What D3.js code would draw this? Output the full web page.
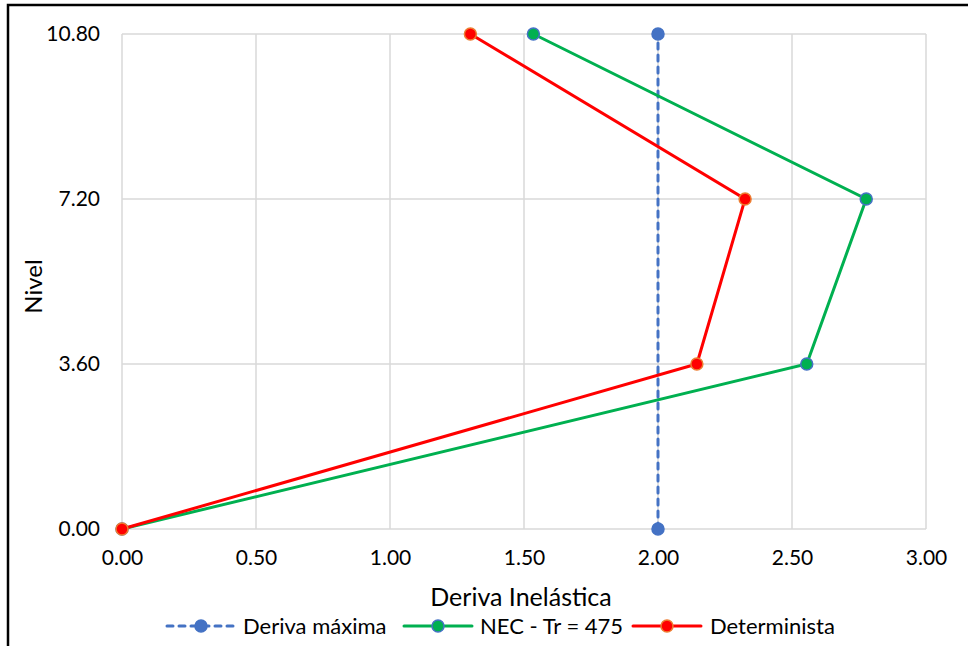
<!DOCTYPE html>
<html>
<head>
<meta charset="utf-8">
<script src="https://cdn.jsdelivr.net/npm/d3@7/dist/d3.min.js"></script>
<style>
  html, body { margin: 0; padding: 0; background: #fff; }
  svg text { font-family: Lato, "Open Sans", "Liberation Sans", sans-serif; fill: #000; }
</style>
</head>
<body>
<svg id="chart" width="968" height="646"></svg>
<script>
// Storey levels (m) and inelastic drift per series
const levels = [0.00, 3.60, 7.20, 10.80];
const derivaMaxLevels = [0.00, 10.80];
const derivaMaxValues = [2.00, 2.00];
const necValues = [0.00, 2.555, 2.777, 1.535];
const deterministaValues = [0.00, 2.145, 2.325, 1.30];

const xTicks = [0.00, 0.50, 1.00, 1.50, 2.00, 2.50, 3.00];
const yTicks = [0.00, 3.60, 7.20, 10.80];

const seriesNames = ["Deriva máxima", "NEC - Tr = 475", "Determinista"];

const svg = d3.select("#chart");
const FONT = "Lato, 'Open Sans', sans-serif";

// Outer frame of the chart
svg.append("rect")
  .attr("x", 8).attr("y", 5)
  .attr("width", 1000).attr("height", 700)
  .attr("fill", "none").attr("stroke", "#000").attr("stroke-width", 2.5);

const plot = { left: 122, right: 926, top: 34, bottom: 529 };

const x = d3.scaleLinear().domain([0, 3]).range([plot.left, plot.right]);
const y = d3.scaleLinear().domain([0, 10.8]).range([plot.bottom, plot.top]);

// Gridlines
const grid = svg.append("g");
grid.selectAll("line.v").data(xTicks).join("line")
  .attr("x1", d => x(d)).attr("x2", d => x(d))
  .attr("y1", plot.top).attr("y2", plot.bottom)
  .attr("stroke", "#d9d9d9").attr("stroke-width", 1.5);
grid.selectAll("line.h").data(yTicks).join("line")
  .attr("x1", plot.left).attr("x2", plot.right)
  .attr("y1", d => y(d)).attr("y2", d => y(d))
  .attr("stroke", "#d9d9d9").attr("stroke-width", 1.5);

// Axes (labels only, no domain line or tick marks)
const xAxis = svg.append("g")
  .attr("transform", `translate(0,${plot.bottom})`)
  .call(d3.axisBottom(x).tickValues(xTicks).tickFormat(d3.format(".2f")).tickSize(0).tickPadding(21));
xAxis.select(".domain").remove();
xAxis.selectAll("text").attr("font-size", 21).style("font-family", FONT).attr("fill", "#000");

const yAxis = svg.append("g")
  .attr("transform", `translate(${plot.left},0)`)
  .call(d3.axisLeft(y).tickValues(yTicks).tickFormat(d3.format(".2f")).tickSize(0).tickPadding(22));
yAxis.select(".domain").remove();
yAxis.selectAll("text").attr("font-size", 21).style("font-family", FONT).attr("fill", "#000");

// Axis titles
svg.append("text")
  .attr("x", (plot.left + plot.right) / 2 - 3).attr("y", 597).attr("dy", "0.35em")
  .attr("text-anchor", "middle").attr("font-size", 25)
  .text("Deriva Inelástica");
svg.append("text")
  .attr("transform", `translate(34,${(plot.top + plot.bottom) / 2 + 5}) rotate(-90)`)
  .attr("dy", "0.35em")
  .attr("text-anchor", "middle").attr("font-size", 24)
  .text("Nivel");

const line = d3.line().x(d => x(d[0])).y(d => y(d[1]));

// Series definitions
const series = [
  { name: seriesNames[0], pts: derivaMaxValues.map((v, i) => [v, derivaMaxLevels[i]]),
    stroke: "#4472c4", dash: "6,6", fill: "#4472c4", mstroke: "#4472c4" },
  { name: seriesNames[1], pts: necValues.map((v, i) => [v, levels[i]]),
    stroke: "#00b050", dash: null, fill: "#00b050", mstroke: "#4472c4" },
  { name: seriesNames[2], pts: deterministaValues.map((v, i) => [v, levels[i]]),
    stroke: "#ff0000", dash: null, fill: "#ff0000", mstroke: "#ed7d31" }
];

series.forEach(s => {
  svg.append("path")
    .datum(s.pts)
    .attr("d", line)
    .attr("fill", "none")
    .attr("stroke", s.stroke)
    .attr("stroke-width", 3)
    .attr("stroke-linecap", s.dash ? "round" : "butt")
    .attr("stroke-dasharray", s.dash);
  svg.selectAll(null).data(s.pts).join("circle")
    .attr("cx", d => x(d[0])).attr("cy", d => y(d[1]))
    .attr("r", 6)
    .attr("fill", s.fill)
    .attr("stroke", s.mstroke)
    .attr("stroke-width", 1.5);
});

// Legend
const legendY = 626;
const legendItems = [
  { s: series[0], x0: 167, tx: 243 },
  { s: series[1], x0: 404, tx: 480 },
  { s: series[2], x0: 633, tx: 710 }
];
legendItems.forEach(it => {
  const g = svg.append("g");
  g.append("line")
    .attr("x1", it.x0).attr("x2", it.x0 + 68)
    .attr("y1", legendY).attr("y2", legendY)
    .attr("stroke", it.s.stroke).attr("stroke-width", 3)
    .attr("stroke-linecap", "round")
    .attr("stroke-dasharray", it.s.dash);
  g.append("circle")
    .attr("cx", it.x0 + 34).attr("cy", legendY).attr("r", 6)
    .attr("fill", it.s.fill).attr("stroke", it.s.mstroke).attr("stroke-width", 1.5);
  g.append("text")
    .attr("x", it.tx).attr("y", legendY).attr("dy", "0.35em")
    .attr("font-size", 22)
    .text(it.s.name);
});
</script>
</body>
</html>
